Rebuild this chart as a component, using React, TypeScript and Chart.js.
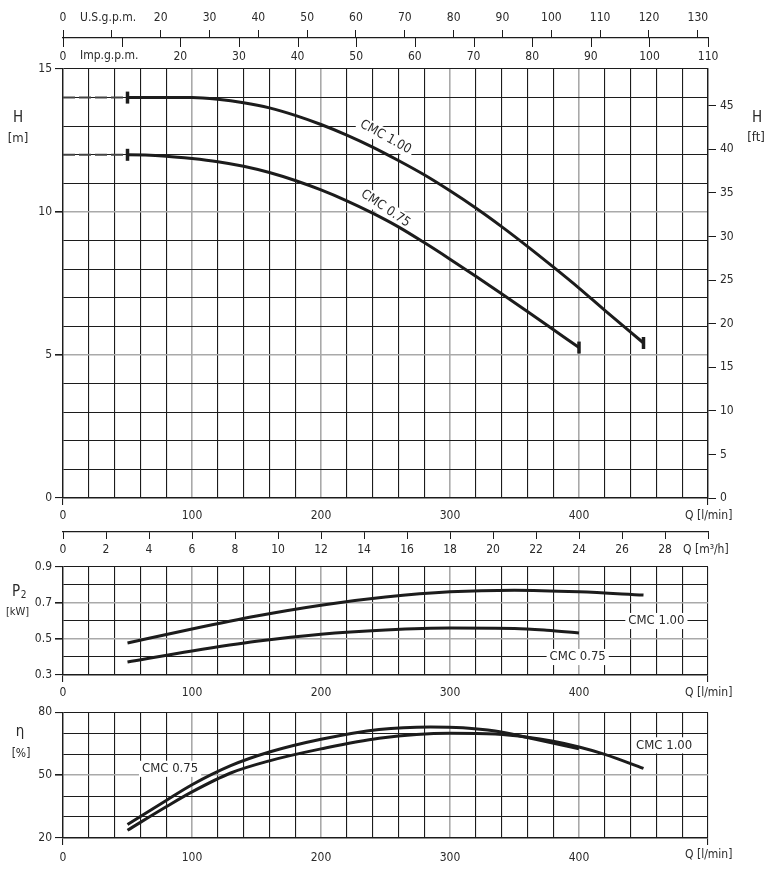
import React, { useEffect, useRef } from 'react';
import { Chart, registerables } from 'chart.js';

Chart.register(...registerables);

const FONT = "'Liberation Sans Narrow', 'DejaVu Sans Condensed', 'Liberation Sans', Arial, sans-serif";
const BLACK = '#1c1c1c';
const GREY = '#a9a9a9';
const TEXT = '#2a2a2a';
const CLEAR = 'rgba(0,0,0,0)';

// ---------- data ----------
// Head curves, H [m] vs Q [l/min]
const qHead100 = [0, 50, 80, 100, 120, 140, 160, 180, 200, 220, 240, 260, 280, 300, 320, 340, 360, 380, 400, 420, 440, 450];
const head100 = [14.0, 14.0, 14.0, 14.0, 13.94, 13.82, 13.64, 13.38, 13.06, 12.69, 12.27, 11.8, 11.3, 10.74, 10.14, 9.49, 8.8, 8.08, 7.34, 6.56, 5.8, 5.42];
const qHead075 = [0, 50, 80, 100, 120, 140, 160, 180, 200, 220, 240, 260, 280, 300, 320, 340, 360, 380, 400];
const head075 = [12.0, 12.0, 11.95, 11.87, 11.76, 11.6, 11.38, 11.1, 10.77, 10.39, 9.96, 9.48, 8.93, 8.35, 7.75, 7.14, 6.52, 5.89, 5.26];
const markers100 = [50, 450];
const markers075 = [50, 400];

// Power P2 [kW]
const qPower100 = [50, 100, 150, 200, 250, 300, 350, 400, 450];
const power100 = [0.478, 0.556, 0.628, 0.688, 0.733, 0.762, 0.771, 0.762, 0.744];
const qPower075 = [50, 100, 150, 200, 250, 300, 350, 375, 400];
const power075 = [0.372, 0.433, 0.487, 0.527, 0.55, 0.561, 0.559, 0.549, 0.533];

// Efficiency [%]
const qEff075 = [50, 80, 100, 130, 160, 200, 245, 285, 310, 335, 360, 400];
const eff075 = [26.4, 37.9, 45.4, 54.5, 61.0, 67.1, 71.8, 73.0, 72.6, 71.0, 67.9, 62.5];
const qEff100 = [50, 80, 100, 130, 160, 200, 245, 300, 335, 360, 380, 400, 420, 450];
const eff100 = [23.7, 34.9, 42.0, 51.0, 56.8, 62.5, 67.6, 70.0, 69.6, 68.1, 66.1, 63.4, 59.9, 53.2];

// ---------- ticks ----------
const flowTicks = [0, 20, 40, 60, 80, 100, 120, 140, 160, 180, 200, 220, 240, 260, 280, 300, 320, 340, 360, 380, 400, 420, 440, 460, 480, 500];
const flowLabels = [0, 100, 200, 300, 400];
const flowMajor = [100, 200, 300, 400];
const m3hTicks = [0, 2, 4, 6, 8, 10, 12, 14, 16, 18, 20, 22, 24, 26, 28, 30];
const m3hLabels = [0, 2, 4, 6, 8, 10, 12, 14, 16, 18, 20, 22, 24, 26, 28];
const usTicks = [0, 10, 20, 30, 40, 50, 60, 70, 80, 90, 100, 110, 120, 130];
const usLabels = [0, 20, 30, 40, 50, 60, 70, 80, 90, 100, 110, 120, 130];
const impTicks = [0, 10, 20, 30, 40, 50, 60, 70, 80, 90, 100, 110];
const impLabels = [0, 20, 30, 40, 50, 60, 70, 80, 90, 100, 110];
const headTicks = [0, 1, 2, 3, 4, 5, 6, 7, 8, 9, 10, 11, 12, 13, 14, 15];
const headLabels = [0, 5, 10, 15];
const headMajor = [5, 10];
const headFtTicks = [0, 5, 10, 15, 20, 25, 30, 35, 40, 45];
const powerTicks = [0.3, 0.4, 0.5, 0.6, 0.7, 0.8, 0.9];
const powerLabels = [0.3, 0.5, 0.7, 0.9];
const powerMajor = [0.5, 0.7];
const effTicks = [20, 30, 40, 50, 60, 70, 80];
const effLabels = [20, 50, 80];
const effMajor = [50];

const tickFont = { family: FONT, size: 12 };

const pts = (xs: number[], ys: number[]) => xs.map((x, i) => ({ x, y: ys[i] }));
const setTicks = (arr: number[]) => (s: any) => { s.ticks = arr.map((v) => ({ value: v })); };

function drawText(ctx: any, text: string, x: number, y: number, o: any = {}) {
  const size = o.size || 12;
  const align = o.align || 'center';
  ctx.save();
  ctx.translate(x, y);
  if (o.angle) ctx.rotate((o.angle * Math.PI) / 180);
  ctx.font = `${size}px ${FONT}`;
  ctx.textAlign = align;
  ctx.textBaseline = 'middle';
  if (o.bg) {
    const w = ctx.measureText(text).width;
    const x0 = align === 'center' ? -w / 2 : align === 'left' ? 0 : -w;
    ctx.fillStyle = '#ffffff';
    ctx.fillRect(x0 - 3, -size * 0.62, w + 6, size * 1.24);
  }
  ctx.fillStyle = TEXT;
  ctx.fillText(text, 0, 0);
  ctx.restore();
}

function flowAxis(height: number, padding: number) {
  return {
    type: 'linear', position: 'bottom', min: 0, max: 500, weight: 0,
    afterBuildTicks: setTicks(flowTicks),
    afterFit: (s: any) => { s.height = height; },
    ticks: {
      autoSkip: false, maxRotation: 0, font: tickFont, color: TEXT, padding,
      callback: (v: number) => (flowLabels.includes(v) ? String(v) : ''),
    },
    grid: {
      color: (c: any) => (flowMajor.includes(c.tick && c.tick.value) ? GREY : BLACK),
      lineWidth: (c: any) => (flowMajor.includes(c.tick && c.tick.value) ? 1.6 : 1.1),
      tickColor: (c: any) => (c.tick && (c.tick.value === 0 || c.tick.value === 500) ? BLACK : CLEAR),
      tickLength: 7,
    },
    border: { color: BLACK, width: 1.4 },
  };
}

function leftAxis(min: number, max: number, ticks: number[], labels: number[], major: number[]) {
  return {
    type: 'linear', position: 'left', min, max,
    afterBuildTicks: setTicks(ticks),
    afterFit: (s: any) => { s.width = 63; },
    ticks: {
      autoSkip: false, font: tickFont, color: TEXT, padding: 3,
      callback: (v: number) => (labels.includes(v) ? String(v) : ''),
    },
    grid: {
      color: (c: any) => (major.includes(c.tick && c.tick.value) ? GREY : BLACK),
      lineWidth: (c: any) => (major.includes(c.tick && c.tick.value) ? 1.6 : 1.1),
      tickColor: (c: any) => (labels.includes(c.tick && c.tick.value) ? BLACK : CLEAR),
      tickLength: 8,
    },
    border: { color: BLACK, width: 1.4 },
  };
}

function curve(label: string, data: any[], markers: number[], width = 3) {
  return {
    label, data,
    borderColor: BLACK, borderWidth: width, fill: false,
    cubicInterpolationMode: 'monotone',
    pointStyle: 'line', pointRotation: 90,
    pointRadius: (c: any) => (c.raw && markers.includes(c.raw.x) ? 6 : 0),
    pointBorderWidth: 3.5, pointBorderColor: BLACK, pointBackgroundColor: BLACK,
    pointHitRadius: 0,
    segment: {
      borderDash: (c: any) => (c.p1.parsed.x <= 50 ? [12, 4] : undefined),
      borderColor: (c: any) => (c.p1.parsed.x <= 50 ? '#444444' : undefined),
      borderWidth: (c: any) => (c.p1.parsed.x <= 50 ? 2 : undefined),
    },
  };
}

const common = {
  responsive: false, animation: false, events: [],
  plugins: { legend: { display: false }, tooltip: { enabled: false } },
};

function headConfig(): any {
  const labelsPlugin = {
    id: 'headLabels',
    beforeDatasetsDraw(chart: any) {
      const { ctx, scales } = chart;
      const x = scales.x, y = scales.y;
      drawText(ctx, 'CMC 1.00', x.getPixelForValue(250), y.getPixelForValue(12.62), { angle: 29, bg: true, size: 13 });
      drawText(ctx, 'CMC 0.75', x.getPixelForValue(250), y.getPixelForValue(10.12), { angle: 34, bg: true, size: 13 });
    },
    afterDraw(chart: any) {
      const { ctx, scales } = chart;
      const imp = scales.ximp, us = scales.xus;
      ctx.save();
      ctx.strokeStyle = BLACK;
      ctx.lineWidth = 1;
      impTicks.forEach((v) => {
        const px = Math.round(imp.getPixelForValue(v)) + 0.5;
        ctx.beginPath();
        ctx.moveTo(px, us.bottom);
        ctx.lineTo(px, us.bottom + 9);
        ctx.stroke();
      });
      ctx.restore();
      drawText(ctx, 'U.S.g.p.m.', 80, 18, { align: 'left' });
      drawText(ctx, 'Imp.g.p.m.', 80, 56, { align: 'left' });
      drawText(ctx, 'Q [l/min]', 685, 516, { align: 'left' });
      drawText(ctx, 'Q [m³/h]', 683, 550, { align: 'left' });
      drawText(ctx, 'H', 18, 118, { size: 15 });
      drawText(ctx, '[m]', 18, 139, { size: 13 });
      drawText(ctx, 'H', 757, 118, { size: 15 });
      drawText(ctx, '[ft]', 756, 138, { size: 13 });
    },
  };
  return {
    type: 'line',
    data: {
      datasets: [
        curve('CMC 1.00', pts(qHead100, head100), markers100),
        curve('CMC 0.75', pts(qHead075, head075), markers075),
      ],
    },
    options: {
      ...common,
      layout: { padding: 0 },
      scales: {
        x: flowAxis(34, 4),
        x2: {
          type: 'linear', position: 'bottom', min: 0, max: 30, weight: 1,
          afterBuildTicks: setTicks(m3hTicks),
          afterFit: (s: any) => { s.height = 28; },
          ticks: {
            autoSkip: false, maxRotation: 0, font: tickFont, color: TEXT, padding: 4,
            callback: (v: number) => (m3hLabels.includes(v) ? String(v) : ''),
          },
          grid: { drawOnChartArea: false, color: BLACK, tickColor: BLACK, tickLength: 7 },
          border: { color: BLACK, width: 1.2 },
        },
        xus: {
          type: 'linear', position: 'top', min: 0, max: 500 / 3.785411784, weight: 1,
          afterBuildTicks: setTicks(usTicks),
          afterFit: (s: any) => { s.height = 38; },
          ticks: {
            autoSkip: false, maxRotation: 0, font: tickFont, color: TEXT, padding: 5,
            callback: (v: number) => (usLabels.includes(v) ? String(v) : ''),
          },
          grid: { drawOnChartArea: false, color: BLACK, tickColor: BLACK, tickLength: 8 },
          border: { color: BLACK, width: 1.2 },
        },
        ximp: {
          type: 'linear', position: 'top', min: 0, max: 500 / 4.54609, weight: 0,
          afterBuildTicks: setTicks(impTicks),
          afterFit: (s: any) => { s.height = 31; },
          ticks: {
            autoSkip: false, maxRotation: 0, font: tickFont, color: TEXT, padding: 5,
            callback: (v: number) => (impLabels.includes(v) ? String(v) : ''),
          },
          grid: { display: false, drawOnChartArea: false, drawTicks: false },
          border: { display: false },
        },
        y: leftAxis(0, 15, headTicks, headLabels, headMajor),
        y2: {
          type: 'linear', position: 'right', min: 0, max: 15 / 0.3048,
          afterBuildTicks: setTicks(headFtTicks),
          afterFit: (s: any) => { s.width = 64; },
          ticks: { autoSkip: false, font: tickFont, color: TEXT, padding: 4 },
          grid: { drawOnChartArea: false, color: BLACK, tickColor: BLACK, tickLength: 8 },
          border: { color: BLACK, width: 1.4 },
        },
      },
    },
    plugins: [labelsPlugin],
  };
}

function powerConfig(): any {
  const labelsPlugin = {
    id: 'powerLabels',
    beforeDatasetsDraw(chart: any) {
      const { ctx, scales } = chart;
      drawText(ctx, 'CMC 1.00', scales.x.getPixelForValue(460), scales.y.getPixelForValue(0.6), { bg: true, size: 13 });
      drawText(ctx, 'CMC 0.75', scales.x.getPixelForValue(399), scales.y.getPixelForValue(0.4), { bg: true, size: 13 });
    },
    afterDraw(chart: any) {
      const { ctx } = chart;
      drawText(ctx, 'Q [l/min]', 685, 141, { align: 'left' });
      drawText(ctx, 'P', 16, 40, { size: 15 });
      drawText(ctx, '2', 23.5, 43, { size: 10 });
      drawText(ctx, '[kW]', 17.5, 60, { size: 11 });
    },
  };
  return {
    type: 'line',
    data: {
      datasets: [
        curve('CMC 1.00', pts(qPower100, power100), []),
        curve('CMC 0.75', pts(qPower075, power075), []),
      ],
    },
    options: {
      ...common,
      layout: { padding: { top: 15, right: 64, left: 0, bottom: 0 } },
      scales: {
        x: flowAxis(27, 4),
        y: leftAxis(0.3, 0.9, powerTicks, powerLabels, powerMajor),
      },
    },
    plugins: [labelsPlugin],
  };
}

function effConfig(): any {
  const labelsPlugin = {
    id: 'effLabels',
    beforeDatasetsDraw(chart: any) {
      const { ctx, scales } = chart;
      drawText(ctx, 'CMC 0.75', scales.x.getPixelForValue(83), scales.y.getPixelForValue(53), { bg: true, size: 13 });
      drawText(ctx, 'CMC 1.00', scales.x.getPixelForValue(466), scales.y.getPixelForValue(64.2), { bg: true, size: 13 });
    },
    afterDraw(chart: any) {
      const { ctx } = chart;
      drawText(ctx, 'Q [l/min]', 685, 153, { align: 'left' });
      drawText(ctx, 'η', 20, 30, { size: 15 });
      drawText(ctx, '[%]', 21, 52, { size: 12 });
    },
  };
  return {
    type: 'line',
    data: {
      datasets: [
        curve('CMC 1.00', pts(qEff100, eff100), []),
        curve('CMC 0.75', pts(qEff075, eff075), []),
      ],
    },
    options: {
      ...common,
      layout: { padding: { top: 7, right: 64, left: 0, bottom: 0 } },
      scales: {
        x: flowAxis(38, 6),
        y: leftAxis(20, 80, effTicks, effLabels, effMajor),
      },
    },
    plugins: [labelsPlugin],
  };
}

export default function App() {
  const r1 = useRef<HTMLCanvasElement>(null);
  const r2 = useRef<HTMLCanvasElement>(null);
  const r3 = useRef<HTMLCanvasElement>(null);

  useEffect(() => {
    const charts = [
      new Chart(r1.current as HTMLCanvasElement, headConfig()),
      new Chart(r2.current as HTMLCanvasElement, powerConfig()),
      new Chart(r3.current as HTMLCanvasElement, effConfig()),
    ];
    return () => charts.forEach((c) => c.destroy());
  }, []);

  const cs = (top: number, h: number): React.CSSProperties => ({
    position: 'absolute', left: 0, top, width: 772, height: h, display: 'block',
  });

  return (
    <div style={{ position: 'absolute', left: 0, top: 0, width: 772, height: 876, background: '#ffffff', overflow: 'hidden' }}>
      <canvas ref={r1} width={772} height={560} style={cs(0, 560)} />
      <canvas ref={r2} width={772} height={150} style={cs(552, 150)} />
      <canvas ref={r3} width={772} height={174} style={cs(702, 174)} />
    </div>
  );
}
